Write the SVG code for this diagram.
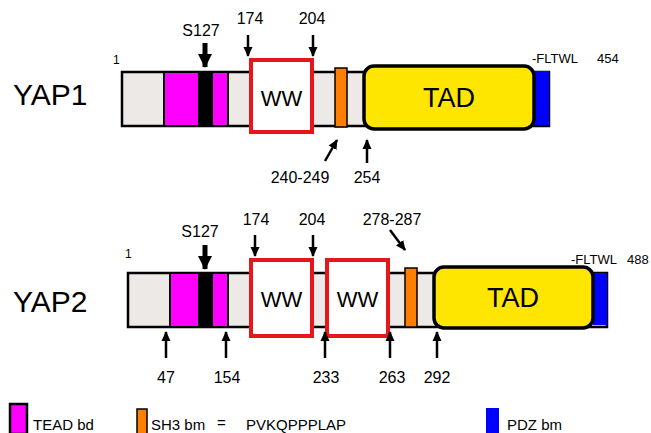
<svg xmlns="http://www.w3.org/2000/svg" width="651" height="433" viewBox="0 0 651 433">
<defs>
<marker id="ah" markerUnits="userSpaceOnUse" markerWidth="10" markerHeight="10" viewBox="0 0 10 10" refX="9" refY="5" orient="auto"><path d="M0,0.5 L10,5 L0,9.5 Z" fill="#000"/></marker>
<marker id="ahb" markerUnits="userSpaceOnUse" markerWidth="14" markerHeight="14" viewBox="0 0 14 14" refX="13" refY="7" orient="auto"><path d="M0,0 L14,7 L0,14 Z" fill="#000"/></marker>
</defs>
<style>
text{font-family:"Liberation Sans",Arial,sans-serif;fill:#000}
.bar{fill:#EDE9E7;stroke:#000;stroke-width:2.5}
.mag{fill:#FF00FF;stroke:#000;stroke-width:2}
.blk{fill:#000}
.ww{fill:#fff;stroke:#E8161B;stroke-width:4}
.sh3{fill:#FF7F00;stroke:#000;stroke-width:1.5}
.tad{fill:#FFE600;stroke:#000;stroke-width:3.5}
.pdz{fill:#0000FF}
.num{font-size:16px;text-anchor:middle}
.lbl{font-size:30px}
.small{font-size:12px}
.ct{font-size:13px}
.leg{font-size:15px}
.arr{stroke:#000;stroke-width:2.5;fill:none;marker-end:url(#ah)}
.arrb{stroke:#000;stroke-width:5;fill:none;marker-end:url(#ahb)}
</style>

<g id="yap1">
<text class="lbl" x="13" y="105">YAP1</text>
<text class="small" x="113" y="64">1</text>
<rect class="bar" x="122" y="72" width="427" height="54"/>
<rect class="mag" x="164" y="72" width="35" height="54"/>
<rect class="blk" x="199" y="72" width="13" height="54"/>
<rect class="mag" x="212" y="72" width="16" height="54"/>
<g id="yap1-ww"><rect class="ww" x="251" y="60" width="61" height="72"/><text x="281.5" y="106" font-size="22" text-anchor="middle">WW</text></g>
<rect class="sh3" x="335" y="68" width="12" height="59"/>
<rect class="pdz" x="534" y="71" width="15" height="54"/>
<g id="yap1-tad"><rect class="tad" x="364" y="66" width="170" height="63" rx="10"/><text x="449" y="107" font-size="27" text-anchor="middle">TAD</text></g>
<text class="ct" x="532" y="63">-FLTWL</text>
<text class="ct" x="597" y="63">454</text>
<text class="num" x="201" y="36">S127</text>
<text class="num" x="250" y="24">174</text>
<text class="num" x="312" y="24">204</text>
<text class="num" x="300" y="183">240-249</text>
<text class="num" x="367" y="183">254</text>
</g>

<g id="yap2">
<text class="lbl" x="13" y="312">YAP2</text>
<text class="small" x="125" y="258">1</text>
<rect class="bar" x="128" y="273" width="479" height="54"/>
<rect class="mag" x="170" y="273" width="29" height="54"/>
<rect class="blk" x="199" y="273" width="13" height="54"/>
<rect class="mag" x="212" y="273" width="16" height="54"/>
<g id="yap2-ww1"><rect class="ww" x="251" y="260" width="61" height="76"/><text x="281.5" y="307" font-size="22" text-anchor="middle">WW</text></g>
<g id="yap2-ww2"><rect class="ww" x="327" y="260" width="61" height="76"/><text x="357.5" y="307" font-size="22" text-anchor="middle">WW</text></g>
<rect class="sh3" x="405" y="268" width="12" height="59"/>
<rect class="pdz" x="593" y="273" width="14" height="52"/>
<g id="yap2-tad"><rect class="tad" x="434" y="267" width="159" height="61" rx="10"/><text x="513" y="307" font-size="27" text-anchor="middle">TAD</text></g>
<text class="ct" x="571" y="264">-FLTWL</text>
<text class="ct" x="627" y="264">488</text>
<text class="num" x="200" y="237">S127</text>
<text class="num" x="256" y="225">174</text>
<text class="num" x="312" y="225">204</text>
<text class="num" x="392" y="225">278-287</text>
<text class="num" x="166" y="383">47</text>
<text class="num" x="227" y="383">154</text>
<text class="num" x="326" y="383">233</text>
<text class="num" x="392" y="383">263</text>
<text class="num" x="437" y="383">292</text>
</g>

<g id="connectors">
<line class="arrb" x1="205" y1="43" x2="205" y2="67"/>
<line class="arr" x1="248" y1="35" x2="248" y2="56"/>
<line class="arr" x1="313" y1="35" x2="313" y2="56"/>
<line class="arr" x1="325" y1="161" x2="337" y2="140"/>
<line class="arr" x1="367" y1="163" x2="367" y2="140"/>
<line class="arrb" x1="205" y1="245" x2="205" y2="269"/>
<line class="arr" x1="255" y1="235" x2="255" y2="256"/>
<line class="arr" x1="313" y1="235" x2="313" y2="256"/>
<line class="arr" x1="390" y1="230" x2="405" y2="250"/>
<line class="arr" x1="166" y1="358" x2="166" y2="332"/>
<line class="arr" x1="226" y1="358" x2="226" y2="332"/>
<line class="arr" x1="325" y1="358" x2="325" y2="332"/>
<line class="arr" x1="390" y1="358" x2="390" y2="332"/>
<line class="arr" x1="437" y1="358" x2="437" y2="332"/>
</g>

<g id="legend">
<rect x="10" y="404" width="17" height="30" fill="#FF00FF" stroke="#000" stroke-width="2.5"/>
<text class="leg" x="33" y="430">TEAD bd</text>
<rect x="137" y="409" width="10" height="25" fill="#FF7F00" stroke="#000" stroke-width="1.5"/>
<text class="leg" x="151" y="430">SH3 bm</text>
<text class="leg" x="217" y="428">=</text>
<text class="leg" x="246" y="430">PVKQPPPLAP</text>
<rect x="486" y="408" width="13" height="26" fill="#0000FF"/>
<text class="leg" x="507" y="430">PDZ bm</text>
</g>
</svg>
